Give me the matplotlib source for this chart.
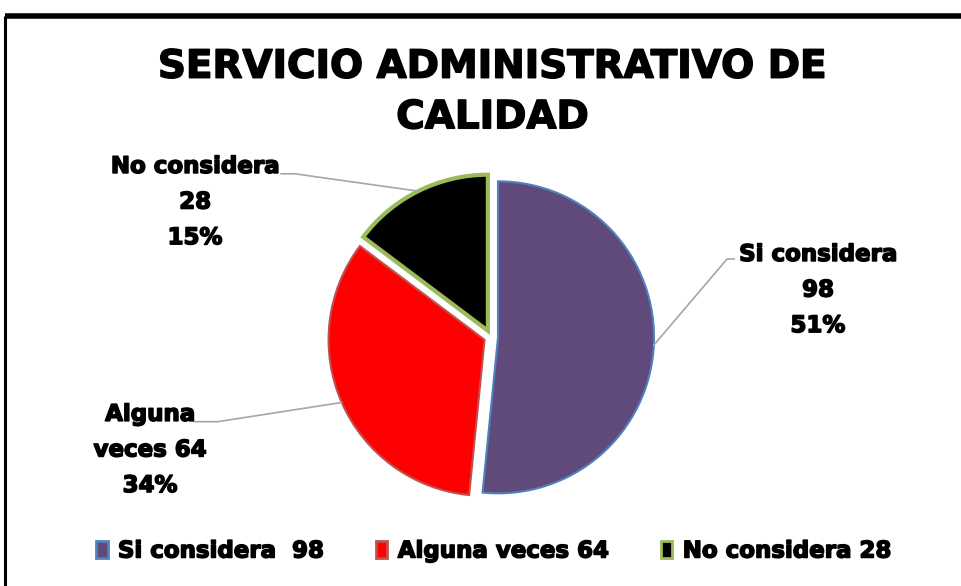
import numpy as np
import matplotlib
matplotlib.use("Agg")
import matplotlib.pyplot as plt
import matplotlib.patheffects as pe
from matplotlib.patches import Patch
from matplotlib.lines import Line2D

# data
labels = ["Si considera", "Alguna veces", "No considera"]
values = [98, 64, 28]
legend_labels = ["Si considera  98", "Alguna veces 64", "No considera 28"]
slice_texts = ["Si considera\n98\n51%", "Alguna\nveces 64\n34%", "No considera\n28\n15%"]
title = "SERVICIO ADMINISTRATIVO DE\nCALIDAD"

fill_colors = ["#604A7B", "#FF0000", "#000000"]
edge_colors = ["#4F81BD", "#C0504D", "#9BBB59"]
edge_widths = [1.5, 1.5, 3.0]

plt.rcParams["font.family"] = ["DejaVu Sans"]
heavy = [pe.withStroke(linewidth=1.1, foreground="black")]

W, H, dpi = 962, 586, 100
fig = plt.figure(figsize=(W / dpi, H / dpi), dpi=dpi)
fig.patch.set_facecolor("white")

# axes spanning the figure, unit = pie radius (156 px), centre at (491, 337) px
R = 156.0
cx, cy = 491.0, 337.0
ax = fig.add_axes([0, 0, 1, 1])

wedges, _ = ax.pie(
    values,
    colors=fill_colors,
    startangle=90,
    counterclock=False,
    explode=[0.045, 0.045, 0.045],
    radius=1.0,
    center=(0, 0),
    wedgeprops=dict(linewidth=1.5),
)
for w, ec, lw in zip(wedges, edge_colors, edge_widths):
    w.set_edgecolor(ec)
    w.set_linewidth(lw)
    w.set_joinstyle("miter")

ax.set_aspect("auto")
ax.set_xlim(-cx / R, (W - cx) / R)
ax.set_ylim(-(H - cy) / R, cy / R)
ax.axis("off")

# label positions (text centre, data units), attachment point and leader slope
text_pos = [(2.096, 0.301), (-2.186, -0.724), (-1.897, 0.865)]
relpos = [(-0.03, 0.83), (0.89, 0.8), (1.01, 0.8)]
leader_angle = [49.6, 8.8, -8.0]
for w, txt, tp, rp, la in zip(wedges, slice_texts, text_pos, relpos, leader_angle):
    ang = np.deg2rad((w.theta1 + w.theta2) / 2)
    wx, wy = w.center
    ex = wx + w.r * np.cos(ang)
    ey = wy + w.r * np.sin(ang)
    ax.annotate(
        txt, xy=(ex, ey), xytext=tp, ha="center", va="center",
        fontsize=16.5, fontweight="bold", linespacing=1.7,
        path_effects=heavy,
        arrowprops=dict(arrowstyle="-", color="#A6A6A6", lw=1.2,
                        relpos=rp, shrinkA=0, shrinkB=0, patchA=None,
                        connectionstyle=f"angle,angleA=0,angleB={la},rad=0"),
    )

fig.text(0.512, 1 - 92 / H, title, ha="center", va="center", fontsize=28,
         fontweight="bold", linespacing=1.42, path_effects=heavy)

handles = [Patch(facecolor=fc, edgecolor=ec, linewidth=2.0)
           for fc, ec in zip(fill_colors, edge_colors)]
leg = fig.legend(handles, legend_labels, loc="center", bbox_to_anchor=(0.513, 1 - 551 / H),
                 ncol=3, frameon=False, handlelength=0.5, handleheight=0.8,
                 handletextpad=0.45, columnspacing=2.3,
                 prop=dict(size=16.5, weight="bold"))
for t in leg.get_texts():
    t.set_path_effects(heavy)

# outer chart border (top and left visible)
fig.add_artist(Line2D([5 / W, 1.0], [1 - 16 / H, 1 - 16 / H], color="black",
                      lw=4, transform=fig.transFigure, solid_capstyle="butt"))
fig.add_artist(Line2D([5 / W, 5 / W], [0, 1 - 16 / H], color="black",
                      lw=2.2, transform=fig.transFigure, solid_capstyle="butt"))

fig.savefig("out.png", dpi=dpi, facecolor="white")
